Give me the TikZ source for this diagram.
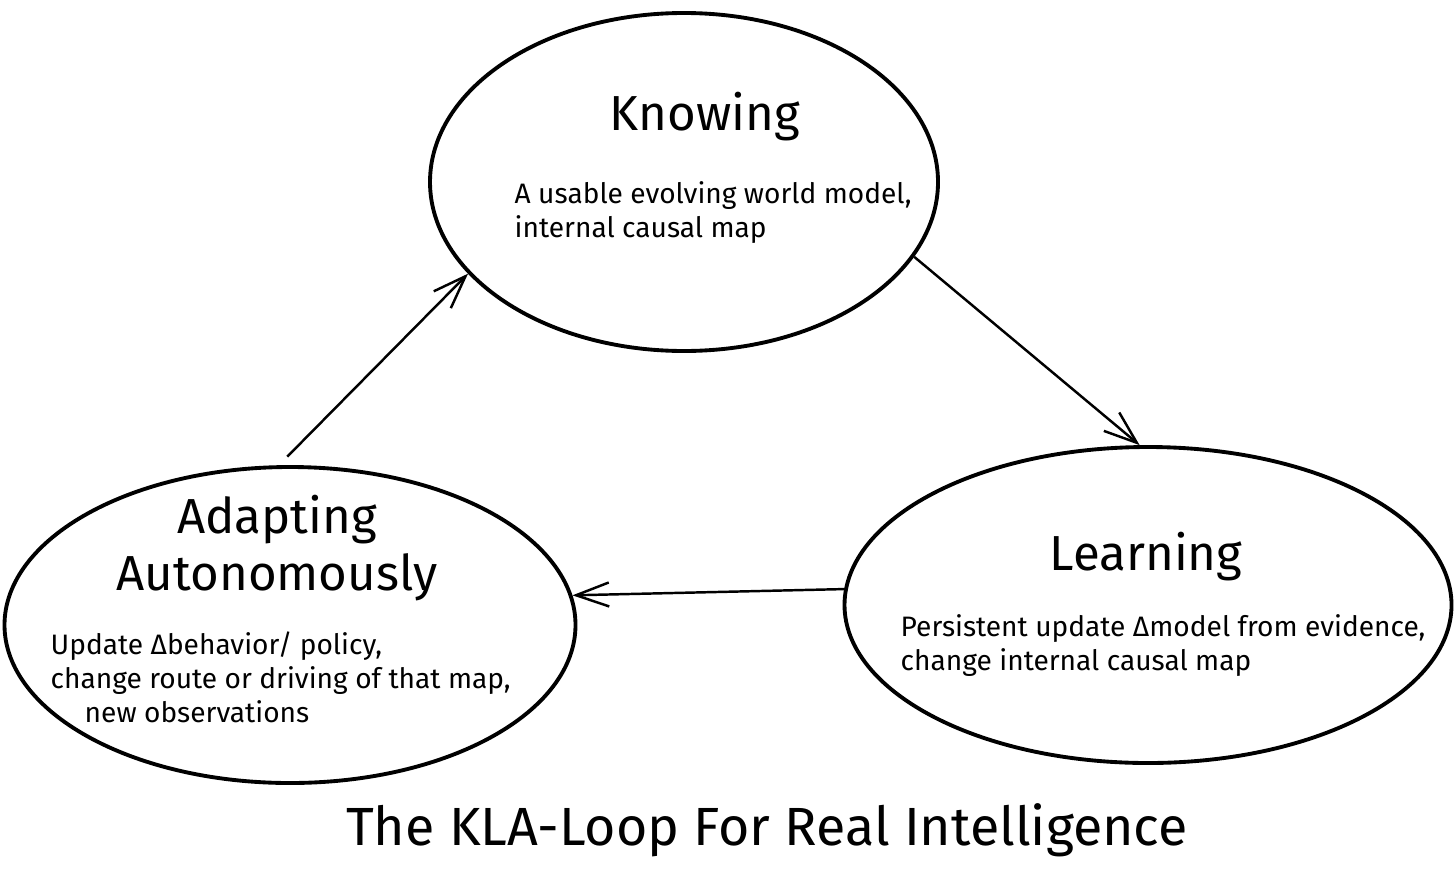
\documentclass[tikz,border=0pt]{standalone}
\usepackage{fontspec}
\setmainfont{Fira Sans}
\usetikzlibrary{shapes.geometric,arrows.meta}

\begin{document}
\begin{tikzpicture}[
    stage/.style={draw, ellipse, line width=1.1pt, inner sep=0pt},
    head/.style={font=\fontsize{14}{16.2}\selectfont, align=center},
    body/.style={font=\fontsize{8}{9.7}\selectfont, align=left, anchor=north west, inner sep=0pt},
    flow/.style={-{Straight Barb[length=3.3mm,width=2.4mm]}, line width=0.7pt},
  ]
  \useasboundingbox (0, 0) rectangle (14.56, 8.71);

  % Stages of the loop
  \node[stage, minimum width=5.08cm, minimum height=3.38cm] (know)  at (6.84, 6.89) {};
  \node[stage, minimum width=6.07cm, minimum height=3.16cm] (learn) at (11.48, 2.66) {};
  \node[stage, minimum width=5.71cm, minimum height=3.16cm] (adapt) at (2.90, 2.46) {};

  % Headings
  \node[head, anchor=base]  (knowT)  at (7.05, 7.41) {Knowing};
  \node[head, anchor=base]  (learnT) at (11.46, 3.01) {Learning};
  \node[head, anchor=north] (adaptT) at (2.77, 3.88) {Adapting\\Autonomously};

  % Descriptions
  \node[body] (knowD)  at (5.14, 6.90) {A usable evolving world model,\\internal causal map};
  \node[body] (learnD) at (9.00, 2.57) {Persistent update Δmodel from evidence,\\change internal causal map};
  \node[body] (adaptD) at (0.50, 2.40) {Update Δbehavior/ policy,\\change route or driving of that map,\\\hspace*{0.34cm}new observations};

  % Arrows
  \draw[flow, shorten <=1.2mm] (adapt.94) -- (know.203);
  \draw[flow] (know.342) -- (learn.93);
  \draw[flow] (learn.177) -- (adapt.6);

  % Caption
  \node[font=\fontsize{15.3}{18}\selectfont, anchor=base] (title) at (7.67, 0.26) {The KLA-Loop For Real Intelligence};
\end{tikzpicture}
\end{document}
